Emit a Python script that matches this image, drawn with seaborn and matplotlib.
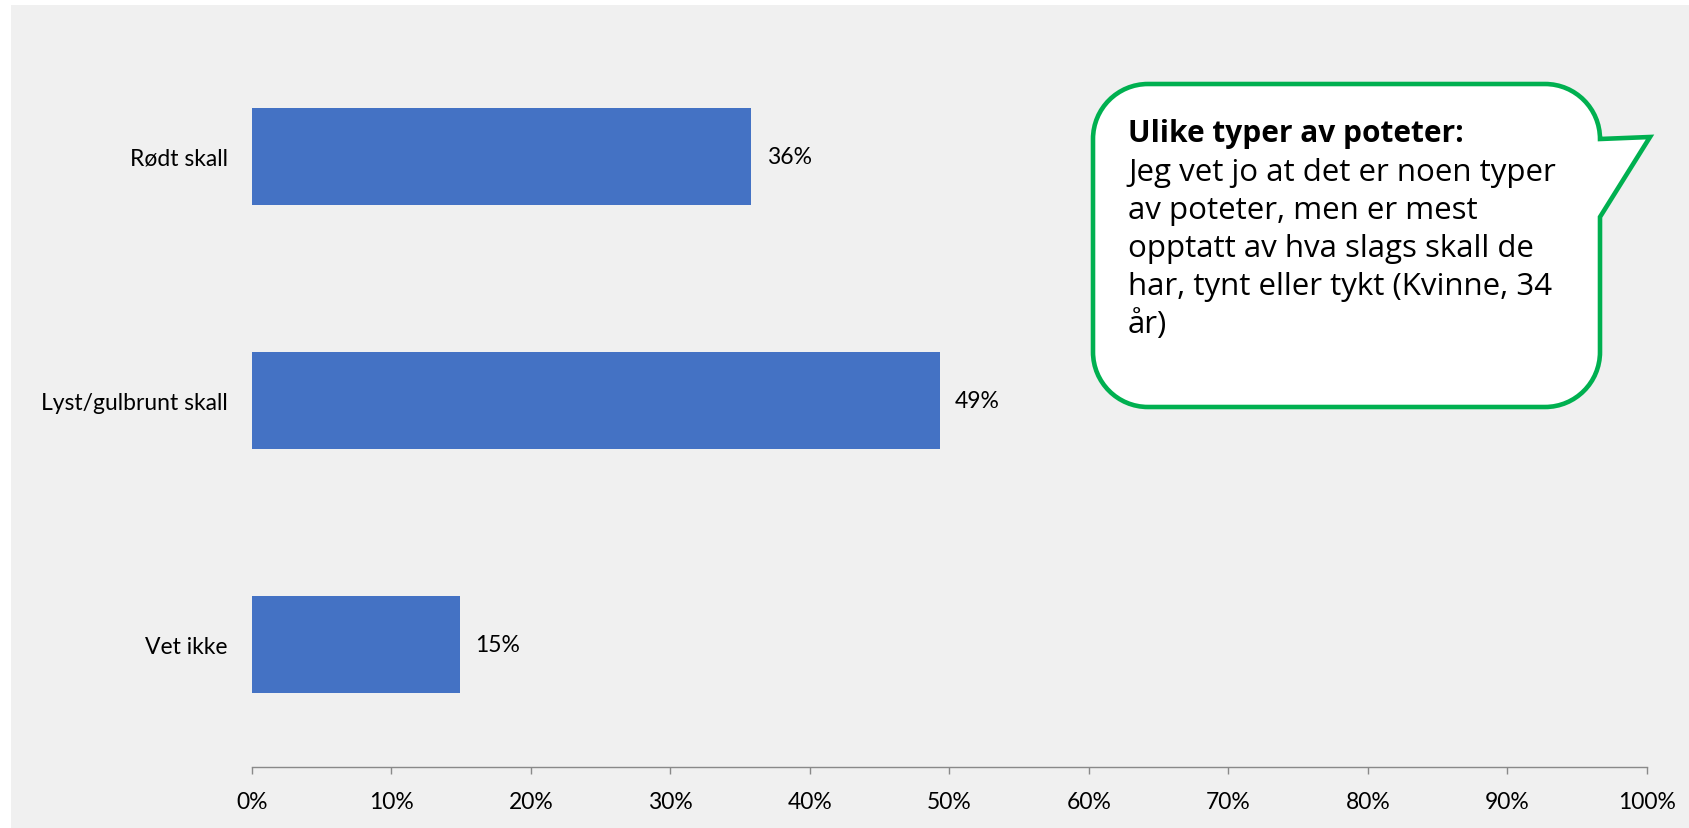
import matplotlib.pyplot as plt
import numpy as np
import seaborn as sns
import pandas as pd
from matplotlib.patches import Rectangle, PathPatch
from matplotlib.path import Path
from matplotlib.ticker import PercentFormatter


categories = ['Rødt skall', 'Lyst/gulbrunt skall', 'Vet ikke']
shares = [0.358, 0.493, 0.149]
x_ticks = [0.0, 0.1, 0.2, 0.3, 0.4, 0.5, 0.6, 0.7, 0.8, 0.9, 1.0]

quote_title = 'Ulike typer av poteter:'
quote_lines = ['Jeg vet jo at det er noen typer',
               'av poteter, men er mest',
               'opptatt av hva slags skall de',
               'har, tynt eller tykt (Kvinne, 34',
               'år)']

BAR_COLOR = '#4472C4'
PANEL = '#F0F0F0'
GREEN = '#00B050'
AXIS_GREY = '#898989'

W, H = 1690, 829


def callout_path(L, T, R, B, r, tip, y_join_low):
    # speech bubble in pixel coords (y down), pointer on the right side
    k = 0.5523 * r
    verts = [(L + r, T), (R - r, T),
             (R - r + k, T), (R, T + r - k), (R, T + r),
             tip, (R, y_join_low), (R, B - r),
             (R, B - r + k), (R - r + k, B), (R - r, B),
             (L + r, B),
             (L + r - k, B), (L, B - r + k), (L, B - r),
             (L, T + r),
             (L, T + r - k), (L + r - k, T), (L + r, T),
             (L + r, T)]
    codes = [Path.MOVETO, Path.LINETO,
             Path.CURVE4, Path.CURVE4, Path.CURVE4,
             Path.LINETO, Path.LINETO, Path.LINETO,
             Path.CURVE4, Path.CURVE4, Path.CURVE4,
             Path.LINETO,
             Path.CURVE4, Path.CURVE4, Path.CURVE4,
             Path.LINETO,
             Path.CURVE4, Path.CURVE4, Path.CURVE4,
             Path.CLOSEPOLY]
    return Path(verts, codes)


sns.set_theme(style='white')
plt.rcParams['font.family'] = ['Lato', 'DejaVu Sans']
plt.rcParams['text.color'] = 'black'

df = pd.DataFrame({'kategori': categories, 'andel': shares})

fig = plt.figure(figsize=(W / 100, H / 100), dpi=100)
fig.patch.set_facecolor('white')
fig.patches.append(Rectangle((11 / W, 0), 1 - 11 / W, (H - 6) / H,
                             transform=fig.transFigure, facecolor=PANEL,
                             edgecolor='none', zorder=-10))

ax = fig.add_axes([252 / W, (H - 767.5) / H, 1395 / W, 732 / H])
ax.set_facecolor('none')
sns.barplot(data=df, x='andel', y='kategori', orient='h', color=BAR_COLOR,
            width=0.4, linewidth=0, saturation=1, ax=ax)

ax.set_xlim(0, 1)
ax.set_ylim(2.5, -0.5)
ax.set_xticks(x_ticks)
ax.xaxis.set_major_formatter(PercentFormatter(1.0, decimals=0))
ax.set_xlabel('')
ax.set_ylabel('')

for s in ['top', 'right', 'left']:
    ax.spines[s].set_visible(False)
ax.spines['bottom'].set_color(AXIS_GREY)
ax.spines['bottom'].set_linewidth(1.0)

ax.tick_params(axis='x', bottom=True, direction='out', length=5, width=1.0,
               color=AXIS_GREY, pad=13, labelsize=16.5, labelcolor='black')
ax.tick_params(axis='y', left=False, pad=11.5, labelsize=16.5, labelcolor='black')

ax.bar_label(ax.containers[0], labels=['%d%%' % round(v * 100) for v in shares],
             padding=11, fontsize=16.5, color='black')

# overlay in pixel coordinates for the speech bubble
ov = fig.add_axes([0, 0, 1, 1])
ov.set_xlim(0, W)
ov.set_ylim(H, 0)
ov.axis('off')

bubble = callout_path(1093, 85, 1600, 408, 55, (1650, 138), 218)
ov.add_patch(PathPatch(bubble, facecolor='white', edgecolor=GREEN,
                       linewidth=3.3, joinstyle='miter'))

ov.text(1128, 142, quote_title, fontsize=21.5, fontweight='bold', color='black',
        family=['Open Sans', 'DejaVu Sans'], va='baseline', ha='left')
for i, line in enumerate(quote_lines):
    ov.text(1128, 180.5 + i * 38.2, line, fontsize=22.5, color='black',
            family=['Open Sans', 'DejaVu Sans'], va='baseline', ha='left')

fig.savefig('out.png', dpi=100)
